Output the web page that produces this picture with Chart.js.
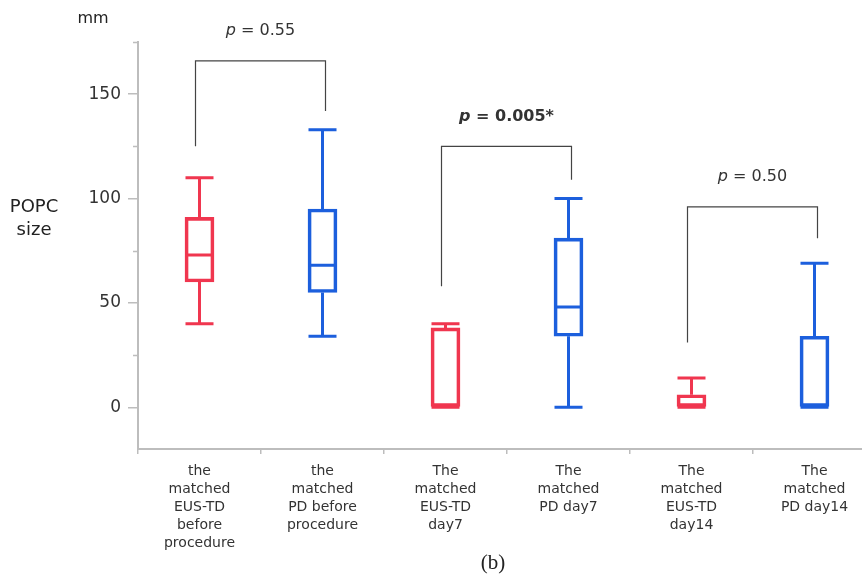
<!DOCTYPE html>
<html>
<head>
<meta charset="utf-8">
<script src="https://cdn.jsdelivr.net/npm/chart.js@4.4.1/dist/chart.umd.min.js"></script>
<style>
  html, body { margin: 0; padding: 0; background: #fff; overflow: hidden; }
  #wrap { position: relative; width: 880px; height: 577px; }
</style>
</head>
<body>
<div id="wrap"><canvas id="box_chart" width="880" height="577"></canvas></div>
<script>
// categories (x axis)
var groups = [
  ['the', 'matched', 'EUS-TD', 'before', 'procedure'],
  ['the', 'matched', 'PD before', 'procedure'],
  ['The', 'matched', 'EUS-TD', 'day7'],
  ['The', 'matched', 'PD day7'],
  ['The', 'matched', 'EUS-TD', 'day14'],
  ['The', 'matched', 'PD day14']
];

// box plot values (mm)
var mins    = [40, 34, 0, 0, 0, 0];
var q1s     = [60, 55, 0, 34, 0, 0];
var medians = [73, 68, 0, 48, 0, 0];
var q3s     = [91, 95, 38, 81, 6, 34];
var maxs    = [110, 133, 40, 100, 14, 69];

// y axis ticks
var majorTicks = [0, 50, 100, 150];
var minorTicks = [25, 75, 125, 175];

// p-value brackets: left group, right group, bar height, leg ends, label, bold
var pLeft   = [0, 2, 4];
var pRight  = [1, 3, 5];
var pTop    = [166, 125, 96];
var pLegL   = [125, 58, 31];
var pLegR   = [142, 109, 81];
var pLabels = ['0.55', '0.005*', '0.50'];
var pBold   = [false, true, false];

var red = '#f0364f';
var blue = '#1c5fdd';
var colors = [red, blue, red, blue, red, blue];
var axisGray = '#bdbdbd';

const boxPlugin = {
  id: 'boxExtras',
  afterDatasetsDraw(chart) {
    const c = chart.ctx;
    const x = chart.scales.x;
    const y = chart.scales.y;
    const half = 14;
    c.save();
    c.lineWidth = 3;
    c.lineCap = 'butt';
    for (let i = 0; i < groups.length; i++) {
      const cx = x.getPixelForValue(i);
      c.strokeStyle = colors[i];
      c.beginPath();
      // whiskers
      c.moveTo(cx, y.getPixelForValue(q3s[i]));
      c.lineTo(cx, y.getPixelForValue(maxs[i]));
      if (q1s[i] > mins[i]) {
        c.moveTo(cx, y.getPixelForValue(q1s[i]));
        c.lineTo(cx, y.getPixelForValue(mins[i]));
      }
      // caps
      c.moveTo(cx - half, y.getPixelForValue(maxs[i]));
      c.lineTo(cx + half, y.getPixelForValue(maxs[i]));
      c.moveTo(cx - half, y.getPixelForValue(mins[i]));
      c.lineTo(cx + half, y.getPixelForValue(mins[i]));
      // median
      c.moveTo(cx - half, y.getPixelForValue(medians[i]));
      c.lineTo(cx + half, y.getPixelForValue(medians[i]));
      c.stroke();
    }
    c.restore();
  },
  afterDraw(chart) {
    const c = chart.ctx;
    const x = chart.scales.x;
    const y = chart.scales.y;
    c.save();
    // minor ticks on y axis
    c.strokeStyle = axisGray;
    c.lineWidth = 1.5;
    c.beginPath();
    minorTicks.forEach(function (v) {
      const py = Math.round(y.getPixelForValue(v)) + 0.5;
      c.moveTo(y.right - 5, py);
      c.lineTo(y.right, py);
    });
    c.stroke();

    // p-value brackets
    c.strokeStyle = '#444';
    c.lineWidth = 1.2;
    c.fillStyle = '#333';
    c.textBaseline = 'middle';
    for (let k = 0; k < pLabels.length; k++) {
      const xl = x.getPixelForValue(pLeft[k]) - 4;
      const xr = x.getPixelForValue(pRight[k]) + 3;
      const yt = y.getPixelForValue(pTop[k]);
      c.beginPath();
      c.moveTo(xl, y.getPixelForValue(pLegL[k]));
      c.lineTo(xl, yt);
      c.lineTo(xr, yt);
      c.lineTo(xr, y.getPixelForValue(pLegR[k]));
      c.stroke();

      const w = pBold[k] ? 'bold ' : '';
      const mid = (xl + xr) / 2;
      const ty = yt - 30;
      c.font = 'italic ' + w + '16px "DejaVu Sans"';
      const pw = c.measureText('p').width;
      c.font = w + '16px "DejaVu Sans"';
      const rest = ' = ' + pLabels[k];
      const rw = c.measureText(rest).width;
      const start = mid - (pw + rw) / 2;
      c.textAlign = 'left';
      c.font = 'italic ' + w + '16px "DejaVu Sans"';
      c.fillText('p', start, ty);
      c.font = w + '16px "DejaVu Sans"';
      c.fillText(rest, start + pw, ty);
    }

    // axis titles
    c.textAlign = 'center';
    c.fillStyle = '#222';
    c.font = '16px "DejaVu Sans"';
    c.fillText('mm', 93, 19);
    c.font = '18px "DejaVu Sans"';
    c.fillText('POPC', 34, 207);
    c.fillText('size', 34, 230);
    c.font = '21px "Liberation Serif"';
    c.fillText('(b)', 493, 563);
    c.restore();
  }
};

const ctx_box = document.getElementById('box_chart').getContext('2d');
const myChart_box = new Chart(ctx_box, {
  type: 'bar',
  data: {
    labels: groups,
    datasets: [{
      label: 'POPC size',
      data: q1s.map(function (v, i) { return [v, q3s[i]]; }),
      backgroundColor: 'rgba(255,255,255,0)',
      borderColor: colors,
      borderWidth: 3,
      borderSkipped: false,
      barThickness: 29
    }]
  },
  options: {
    responsive: false,
    animation: false,
    devicePixelRatio: 1,
    layout: { padding: { top: 42, right: 4, left: 0, bottom: 0 } },
    plugins: {
      legend: { display: false },
      tooltip: { enabled: false }
    },
    scales: {
      x: {
        offset: true,
        afterFit: function (scale) { scale.height = 128; },
        border: { display: true, color: axisGray, width: 2 },
        grid: { offset: true, drawOnChartArea: false, drawTicks: true, tickLength: 5, color: axisGray, lineWidth: 1.5 },
        ticks: {
          color: '#333',
          padding: 8,
          maxRotation: 0,
          autoSkip: false,
          font: { family: 'DejaVu Sans', size: 14, lineHeight: '18px' }
        }
      },
      y: {
        min: -20,
        max: 175,
        afterFit: function (scale) { scale.width = 138; },
        afterBuildTicks: function (scale) {
          scale.ticks = majorTicks.map(function (v) { return { value: v }; });
        },
        border: { display: true, color: axisGray, width: 2 },
        grid: { drawOnChartArea: false, drawTicks: true, tickLength: 10, color: axisGray, lineWidth: 1.5 },
        ticks: {
          color: '#333',
          padding: 7,
          font: { family: 'DejaVu Sans', size: 17 }
        }
      }
    }
  },
  plugins: [boxPlugin]
});
</script>
</body>
</html>
